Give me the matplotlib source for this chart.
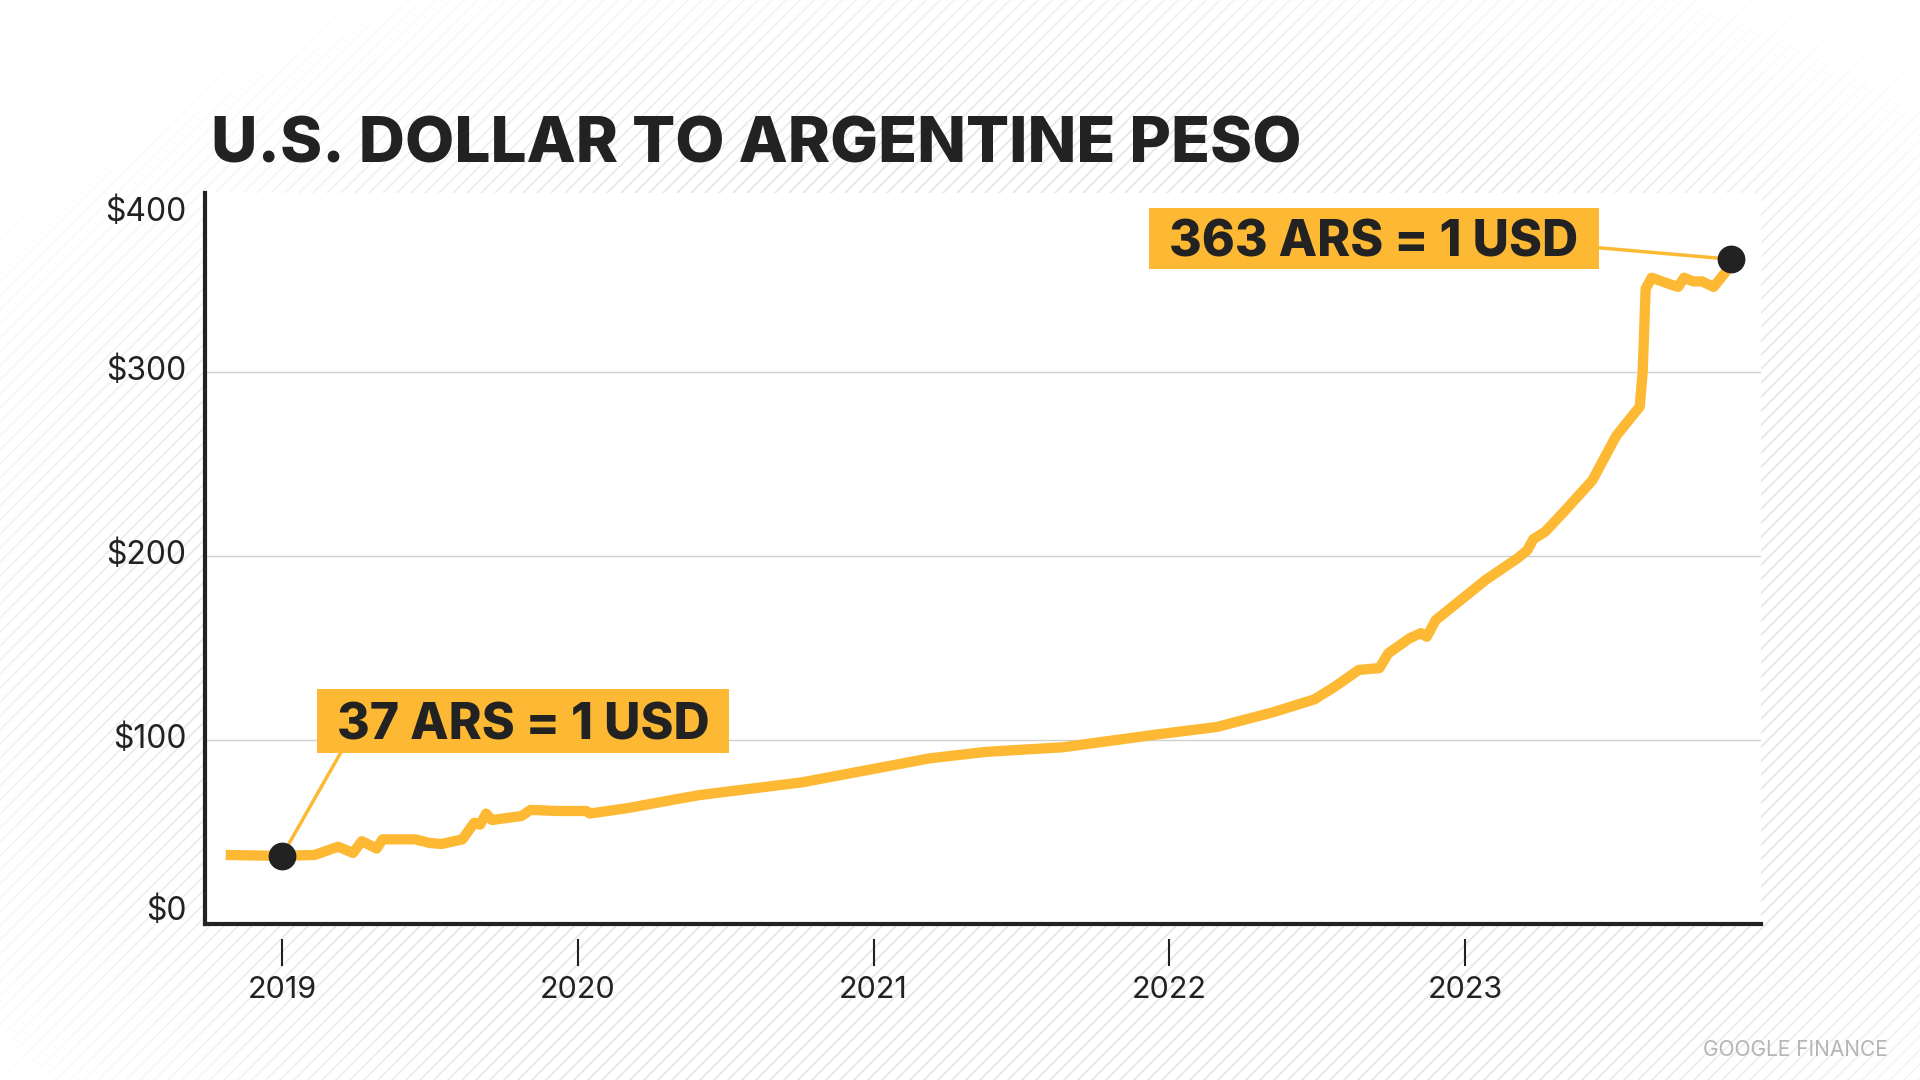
import numpy as np
import matplotlib
matplotlib.use("Agg")
import matplotlib.pyplot as plt
import matplotlib.transforms as mtransforms
from matplotlib.patches import Rectangle

# Exchange rate (ARS per USD), x in decimal years
years = [2018.81, 2019.00, 2019.11, 2019.19, 2019.24, 2019.27, 2019.32, 2019.34,
         2019.37, 2019.45, 2019.50, 2019.54, 2019.61, 2019.65, 2019.67, 2019.69,
         2019.71, 2019.81, 2019.84, 2019.93, 2020.03, 2020.04, 2020.17, 2020.34,
         2020.41, 2020.61, 2020.76, 2021.19, 2021.38, 2021.64, 2021.96, 2022.16,
         2022.35, 2022.49, 2022.56, 2022.64, 2022.71, 2022.74, 2022.81, 2022.85,
         2022.87, 2022.90, 2023.07, 2023.18, 2023.21, 2023.23, 2023.27, 2023.34,
         2023.43, 2023.51, 2023.56, 2023.59, 2023.60, 2023.61, 2023.63, 2023.70,
         2023.72, 2023.74, 2023.77, 2023.80, 2023.84, 2023.88, 2023.90]
rate = [37.5, 37, 37.5, 42, 38.6, 45, 41, 46,
        46, 46, 44, 43.5, 46, 55, 54, 60,
        56.5, 58.7, 62, 61.4, 61.4, 60, 63, 68,
        70, 74, 77, 90, 93.5, 96, 103, 107,
        115, 122, 129, 138, 139, 147, 155, 158,
        156, 165, 187, 199, 203, 209, 213, 225,
        241, 265, 275, 281, 300, 345, 351, 347,
        346, 351, 349, 349, 346, 354, 361]

y_ticks = [0, 100, 200, 300, 400]
x_ticks = [2019, 2020, 2021, 2022, 2023]

start_point = (2019.00, 37)
end_point = (2023.90, 361)
start_label = "37 ARS = 1 USD"
end_label = "363 ARS = 1 USD"

YELLOW = "#FDB933"
DARK = "#222222"
HEAVY = ["Inter", "DejaVu Sans"]
REG = ["Inter", "DejaVu Sans"]

W, H = 1920, 1080
fig = plt.figure(figsize=(19.2, 10.8), dpi=100)
fig.patch.set_facecolor("white")

# faint diagonal hatching in the background, fading towards the edges
bg = fig.add_axes([0, 0, 1, 1], zorder=-10)
yy, xx = np.mgrid[0:H, 0:W]
stripe = ((xx + yy) % 14) < 2.2
r = np.sqrt(((xx - W * 0.55) / (W * 0.5)) ** 2 + ((yy - H * 0.6) / (H * 0.55)) ** 2)
fade = np.clip((1.35 - r) / 0.5, 0, 1)
img = np.zeros((H, W, 4))
img[..., :3] = 0.45
img[..., 3] = stripe * fade * 0.15
bg.imshow(img, extent=[0, 1, 0, 1], aspect="auto", interpolation="bilinear")
bg.set_xlim(0, 1)
bg.set_ylim(0, 1)
bg.axis("off")

ax = fig.add_axes([0.1068, 0.1444, 0.8104, 0.6769])
ax.set_facecolor("white")
ax.set_xlim(2018.74, 2024.0)
ax.set_ylim(0, 397)

for v in y_ticks[1:-1]:
    ax.axhline(v, color="#cfcfcf", linewidth=1.0, zorder=1)

ax.plot(years, rate, color=YELLOW, linewidth=7.4, solid_joinstyle="round",
        solid_capstyle="butt", zorder=3)

for pt in (start_point, end_point):
    ax.plot(*pt, "o", color=DARK, markersize=19, zorder=5)

for side in ("top", "right"):
    ax.spines[side].set_visible(False)
for side in ("left", "bottom"):
    ax.spines[side].set_color(DARK)
    ax.spines[side].set_linewidth(3)

ax.set_xticks([])
ax.set_yticks([])

# y labels, the end ones pulled inward a little
ytrans = mtransforms.blended_transform_factory(ax.transAxes, ax.transData)
for i, v in enumerate(y_ticks):
    dy = 0
    if i == 0:
        dy = 13
    elif i == len(y_ticks) - 1:
        dy = -25
    tr = ytrans + mtransforms.ScaledTranslation(0, dy / 100, fig.dpi_scale_trans)
    ax.text(-0.012, v, f"${v}", transform=tr, ha="right", va="center",
            fontsize=23, family=REG, color=DARK)

# x ticks sit just below the axis line
xtrans = mtransforms.blended_transform_factory(ax.transData, ax.transAxes)
for yr in x_ticks:
    ax.plot([yr, yr], [-0.022, -0.056], color=DARK, linewidth=1.5,
            transform=xtrans, clip_on=False)
    ax.text(yr, -0.09, str(yr), transform=xtrans, ha="center", va="center",
            fontsize=22, family=REG, color=DARK)

fig.text(0.110, 1 - 146 / H, "U.S. DOLLAR TO ARGENTINE PESO", ha="left",
         va="center", fontsize=46, fontweight="heavy", family=HEAVY, color=DARK)
fig.text(0.983, 1 - 1050 / H, "GOOGLE FINANCE", ha="right", va="center",
         fontsize=15, family=REG, color="#b5b5b5")

# callout boxes: (text, centre px, box height px, anchor on box, point)
callouts = [
    (start_label, (523, 721), 64, (0.058, 0.0), start_point),
    (end_label, (1374, 238), 61, (1.0, 0.34), end_point),
]
fig.canvas.draw()
renderer = fig.canvas.get_renderer()
for label, (cx, cy), bh, (rx, ry), pt in callouts:
    t = fig.text(cx / W, 1 - cy / H, label, ha="center", va="center_baseline",
                 fontsize=36, fontweight="heavy", family=HEAVY, color=DARK,
                 zorder=7)
    ext = t.get_window_extent(renderer)
    bw = ext.width + 2 * 20
    x0, y0 = cx - bw / 2, (H - cy) - bh / 2
    fig.patches.append(Rectangle((x0 / W, y0 / H), bw / W, bh / H,
                                 transform=fig.transFigure, fc=YELLOW,
                                 ec="none", zorder=6))
    # connector from the box to the point
    ax_px = ax.transData.transform(pt)
    start_px = (x0 + rx * bw, y0 + ry * bh)
    line_pts = ax.transData.inverted().transform([start_px, ax_px])
    ax.plot(line_pts[:, 0], line_pts[:, 1], color=YELLOW, linewidth=2.5,
            zorder=4, clip_on=False)

fig.savefig("out.png", dpi=100, facecolor="white")
